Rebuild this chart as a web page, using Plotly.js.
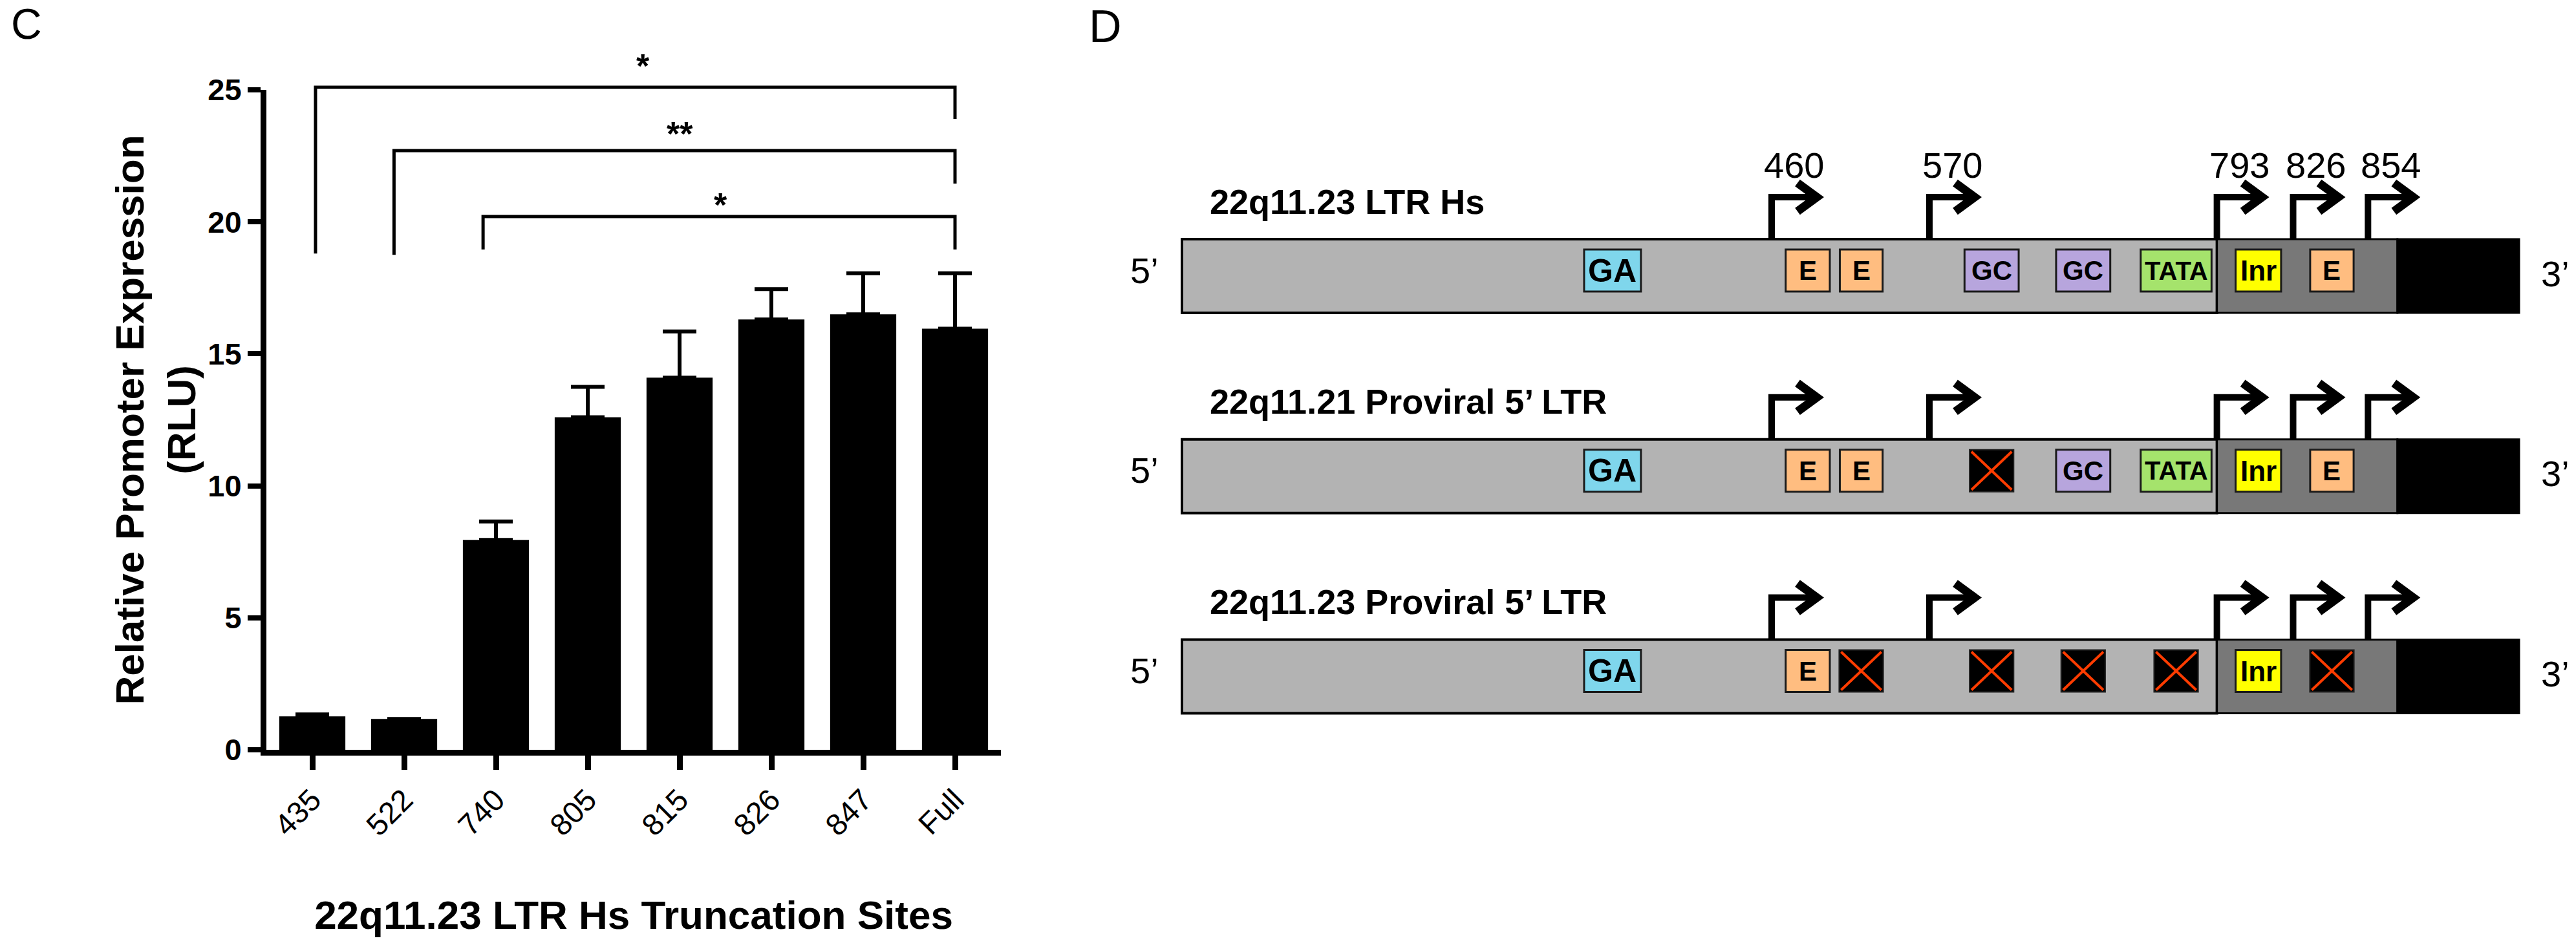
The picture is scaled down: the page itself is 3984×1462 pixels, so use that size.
<!DOCTYPE html>
<html><head><meta charset="utf-8">
<script src="https://cdn.plot.ly/plotly-3.0.1.min.js"></script>
<style>html,body{margin:0;padding:0;background:#fff}</style>
</head><body><div id="chart" style="width:3984px;height:1462px"></div>
<script>
// ---------------- Panel C data ----------------
const sites = ['435', '522', '740', '805', '815', '826', '847', 'Full'];
const rlu = [1.27, 1.17, 7.95, 12.6, 14.1, 16.3, 16.5, 15.95];
const rluErr = [0.07, 0.0, 0.7, 1.15, 1.75, 1.15, 1.55, 2.1];
const yTicks = [0, 5, 10, 15, 20, 25];
// significance brackets (x in category index units, y in RLU)
const sigLabel = ['*', '**', '*'];
const sigLeftX = [0.035, 0.89, 1.86];
const sigRightX = [7, 7, 7];
const sigTopY = [25.1, 22.7, 20.2];
const sigLeftBottom = [18.8, 18.75, 18.95];
const sigRightBottom = [23.9, 21.45, 18.95];
const sigLabelX = [3.6, 4.0, 4.45];
const sigLabelY = [26.2, 23.63, 20.94];

// ---------------- Panel D data ----------------
const constructs = ['22q11.23 LTR Hs', '22q11.21 Proviral 5\u2019 LTR', '22q11.23 Proviral 5\u2019 LTR'];
const tssLabels = ['460', '570', '793', '826', '854'];
const tssPos = [441, 559, 774, 831, 887];           // schematic units (LTR drawn 0-1000)
const elements = ['GA', 'E', 'E', 'GC', 'GC', 'TATA', 'Inr', 'E'];
const elementCenter = [322, 468, 508, 605.5, 674, 743.5, 805, 860];
const elementWidth = [42.5, 33, 32, 40.5, 40.5, 53, 34, 32.5];
const elementPresent = [
  [1, 1, 1, 1, 1, 1, 1, 1],
  [1, 1, 1, 0, 1, 1, 1, 1],
  [1, 1, 0, 0, 0, 0, 1, 0]
];
const regionBreaks = [0, 774, 909, 1000];

// ---------------- styling / geometry ----------------
const FONT = 'Liberation Sans, Arial, Helvetica, sans-serif';
const W = 3984, H = 1462;
const C_L = 412, C_R = 1548, C_B = 1160, C_T = 139;
const Y_MAX = 25;
const pxPerUnitC = (C_B - C_T) / Y_MAX;
const D_X0 = 1828, D_X1 = 3896, D_LEFT = 1690;
const D_ROW0 = 427, D_STEP = 309.75;
const kx = (D_X1 - D_X0) / 1000;
const ux = px => px / kx;
const uy = px => px / D_STEP;

const elemColor = {GA: '#7fd6ec', E: '#ffbd80', GC: '#b7a5dd', TATA: '#a5e36c', Inr: '#ffff00'};
const elemFont = {GA: 50, E: 42, GC: 42, TATA: 40, Inr: 44};
const regionColor = ['#b3b3b3', '#787878', '#000000'];

// ---------------- traces ----------------
const idx = sites.map((s, i) => i);
const traces = [{
  type: 'bar', x: idx, y: rlu, width: 0.72,
  marker: {color: '#000', line: {width: 0}},
  error_y: {type: 'data', symmetric: false, array: rluErr, arrayminus: rluErr.map(() => 0),
            color: '#000', thickness: 6, width: 26},
  hoverinfo: 'skip', showlegend: false, xaxis: 'x', yaxis: 'y'
}];
for (let i = 0; i < sigLabel.length; i++) {
  traces.push({
    type: 'scatter', mode: 'lines',
    x: [sigLeftX[i], sigLeftX[i], sigRightX[i], sigRightX[i]],
    y: [sigLeftBottom[i], sigTopY[i], sigTopY[i], sigRightBottom[i]],
    line: {color: '#000', width: 5}, xaxis: 'x', yaxis: 'y3',
    hoverinfo: 'skip', showlegend: false
  });
}

// ---------------- shapes & annotations ----------------
const shapes = [];
const annotations = [];
const ref2 = {xref: 'x2', yref: 'y2'};

annotations.push({xref: 'paper', yref: 'paper', x: 15 / W, y: 1 - 37.5 / H, xanchor: 'left', yanchor: 'middle',
  text: 'C', showarrow: false, font: {size: 66, color: '#000'}});
annotations.push({xref: 'paper', yref: 'paper', x: 1682 / W, y: 1, xanchor: 'left', yanchor: 'top',
  text: 'D', showarrow: false, font: {size: 70, color: '#000'}});

for (let i = 0; i < sigLabel.length; i++) {
  annotations.push({xref: 'x', yref: 'y3', x: sigLabelX[i], y: sigLabelY[i], yshift: -12,
    xanchor: 'center', yanchor: 'middle', text: sigLabel[i], showarrow: false,
    font: {size: 52, weight: 'bold', color: '#000'}});
}

constructs.forEach((name, r) => {
  const barHalf = uy(57);
  // LTR body segments
  for (let s = 0; s < 3; s++) {
    shapes.push(Object.assign({type: 'rect', x0: regionBreaks[s], x1: regionBreaks[s + 1],
      y0: r - barHalf, y1: r + barHalf, fillcolor: regionColor[s],
      line: {color: '#000', width: s === 0 ? 4 : 3}, layer: 'above'}, ref2));
  }
  // elements
  const bc = r + uy(-8.5), bh = uy(32.5);
  elements.forEach((el, i) => {
    const c = elementCenter[i];
    if (elementPresent[r][i]) {
      const w = elementWidth[i];
      shapes.push(Object.assign({type: 'rect', x0: c - w / 2, x1: c + w / 2, y0: bc - bh, y1: bc + bh,
        fillcolor: elemColor[el], line: {color: '#1a1a1a', width: 3}}, ref2));
      annotations.push(Object.assign({x: c, y: bc, xanchor: 'center', yanchor: 'middle', text: el,
        showarrow: false, font: {size: elemFont[el], weight: 'bold', color: '#000'}}, ref2));
    } else {
      const w = 33;
      shapes.push(Object.assign({type: 'rect', x0: c - w / 2, x1: c + w / 2, y0: bc - bh, y1: bc + bh,
        fillcolor: '#000', line: {color: '#222', width: 2}}, ref2));
      const ix = ux(3), iy = uy(3);
      shapes.push(Object.assign({type: 'line', x0: c - w / 2 + ix, x1: c + w / 2 - ix, y0: bc - bh + iy, y1: bc + bh - iy,
        line: {color: '#ff3c00', width: 4}}, ref2));
      shapes.push(Object.assign({type: 'line', x0: c - w / 2 + ix, x1: c + w / 2 - ix, y0: bc + bh - iy, y1: bc - bh + iy,
        line: {color: '#ff3c00', width: 4}}, ref2));
    }
  });
  // transcription start site arrows
  tssPos.forEach((p, i) => {
    const yb = r - barHalf;
    const yh = yb - uy(65);
    shapes.push(Object.assign({type: 'path',
      path: `M ${p},${yb} L ${p},${yh} L ${p + ux(66)},${yh}`,
      line: {color: '#000', width: 10}}, ref2));
    shapes.push(Object.assign({type: 'path',
      path: `M ${p + ux(40)},${yh - uy(22)} L ${p + ux(70)},${yh} L ${p + ux(40)},${yh + uy(22)}`,
      line: {color: '#000', width: 13}}, ref2));
    if (r === 0) {
      annotations.push(Object.assign({x: p + ux(35), y: r + uy(-172), xanchor: 'center', yanchor: 'middle',
        text: tssLabels[i], showarrow: false, font: {size: 56, color: '#000'}}, ref2));
    }
  });
  // construct title
  annotations.push(Object.assign({x: ux(1869 - D_X0), y: r + uy(-115.5), xanchor: 'left', yanchor: 'middle',
    text: name, showarrow: false, font: {size: 54, weight: 'bold', color: '#000'}}, ref2));
  // 5' / 3' ends
  annotations.push(Object.assign({x: ux(1770 - D_X0), y: r + uy(-9), xanchor: 'center', yanchor: 'middle',
    text: '5\u2019', showarrow: false, font: {size: 56, color: '#000'}}, ref2));
  annotations.push(Object.assign({x: ux(3952 - D_X0), y: r + uy(-4), xanchor: 'center', yanchor: 'middle',
    text: '3\u2019', showarrow: false, font: {size: 56, color: '#000'}}, ref2));
});

const layout = {
  width: W, height: H, margin: {l: 0, r: 0, t: 0, b: 0},
  paper_bgcolor: '#ffffff', plot_bgcolor: 'rgba(0,0,0,0)', showlegend: false,
  font: {family: FONT, color: '#000'},
  xaxis: {domain: [C_L / W, C_R / W], range: [-0.5, 7.5], tickvals: idx, ticktext: sites,
    tickangle: -45, ticks: 'outside', ticklen: 22, tickwidth: 9, tickcolor: '#000',
    showline: true, linewidth: 9, linecolor: '#000', showgrid: false, zeroline: false,
    tickfont: {size: 47, color: '#000'}, anchor: 'y', fixedrange: true,
    title: {text: '22q11.23 LTR Hs Truncation Sites', font: {size: 62, weight: 'bold', color: '#000'}, standoff: 95}},
  yaxis: {domain: [(H - C_B) / H, (H - C_T) / H], range: [0, Y_MAX], tickvals: yTicks,
    ticks: 'outside', ticklen: 20, tickwidth: 8, tickcolor: '#000',
    showline: true, linewidth: 9, linecolor: '#000', showgrid: false, zeroline: false,
    tickfont: {size: 47, weight: 'bold', color: '#000'}, anchor: 'x', fixedrange: true,
    title: {text: 'Relative Promoter Expression<br>(RLU)', font: {size: 62, weight: 'bold', color: '#000'}, standoff: 2}},
  yaxis3: {domain: [(H - C_B) / H, 1], range: [0, C_B / pxPerUnitC], anchor: 'x', visible: false, fixedrange: true},
  xaxis2: {domain: [D_LEFT / W, 1], range: [ux(D_LEFT - D_X0), ux(W - D_X0)], anchor: 'y2', visible: false, fixedrange: true},
  yaxis2: {domain: [0, 1], range: [uy(H - D_ROW0), uy(-D_ROW0)], anchor: 'x2', visible: false, fixedrange: true},
  shapes: shapes,
  annotations: annotations
};

Plotly.newPlot('chart', traces, layout, {staticPlot: true, displayModeBar: false});
</script>
</body></html>
